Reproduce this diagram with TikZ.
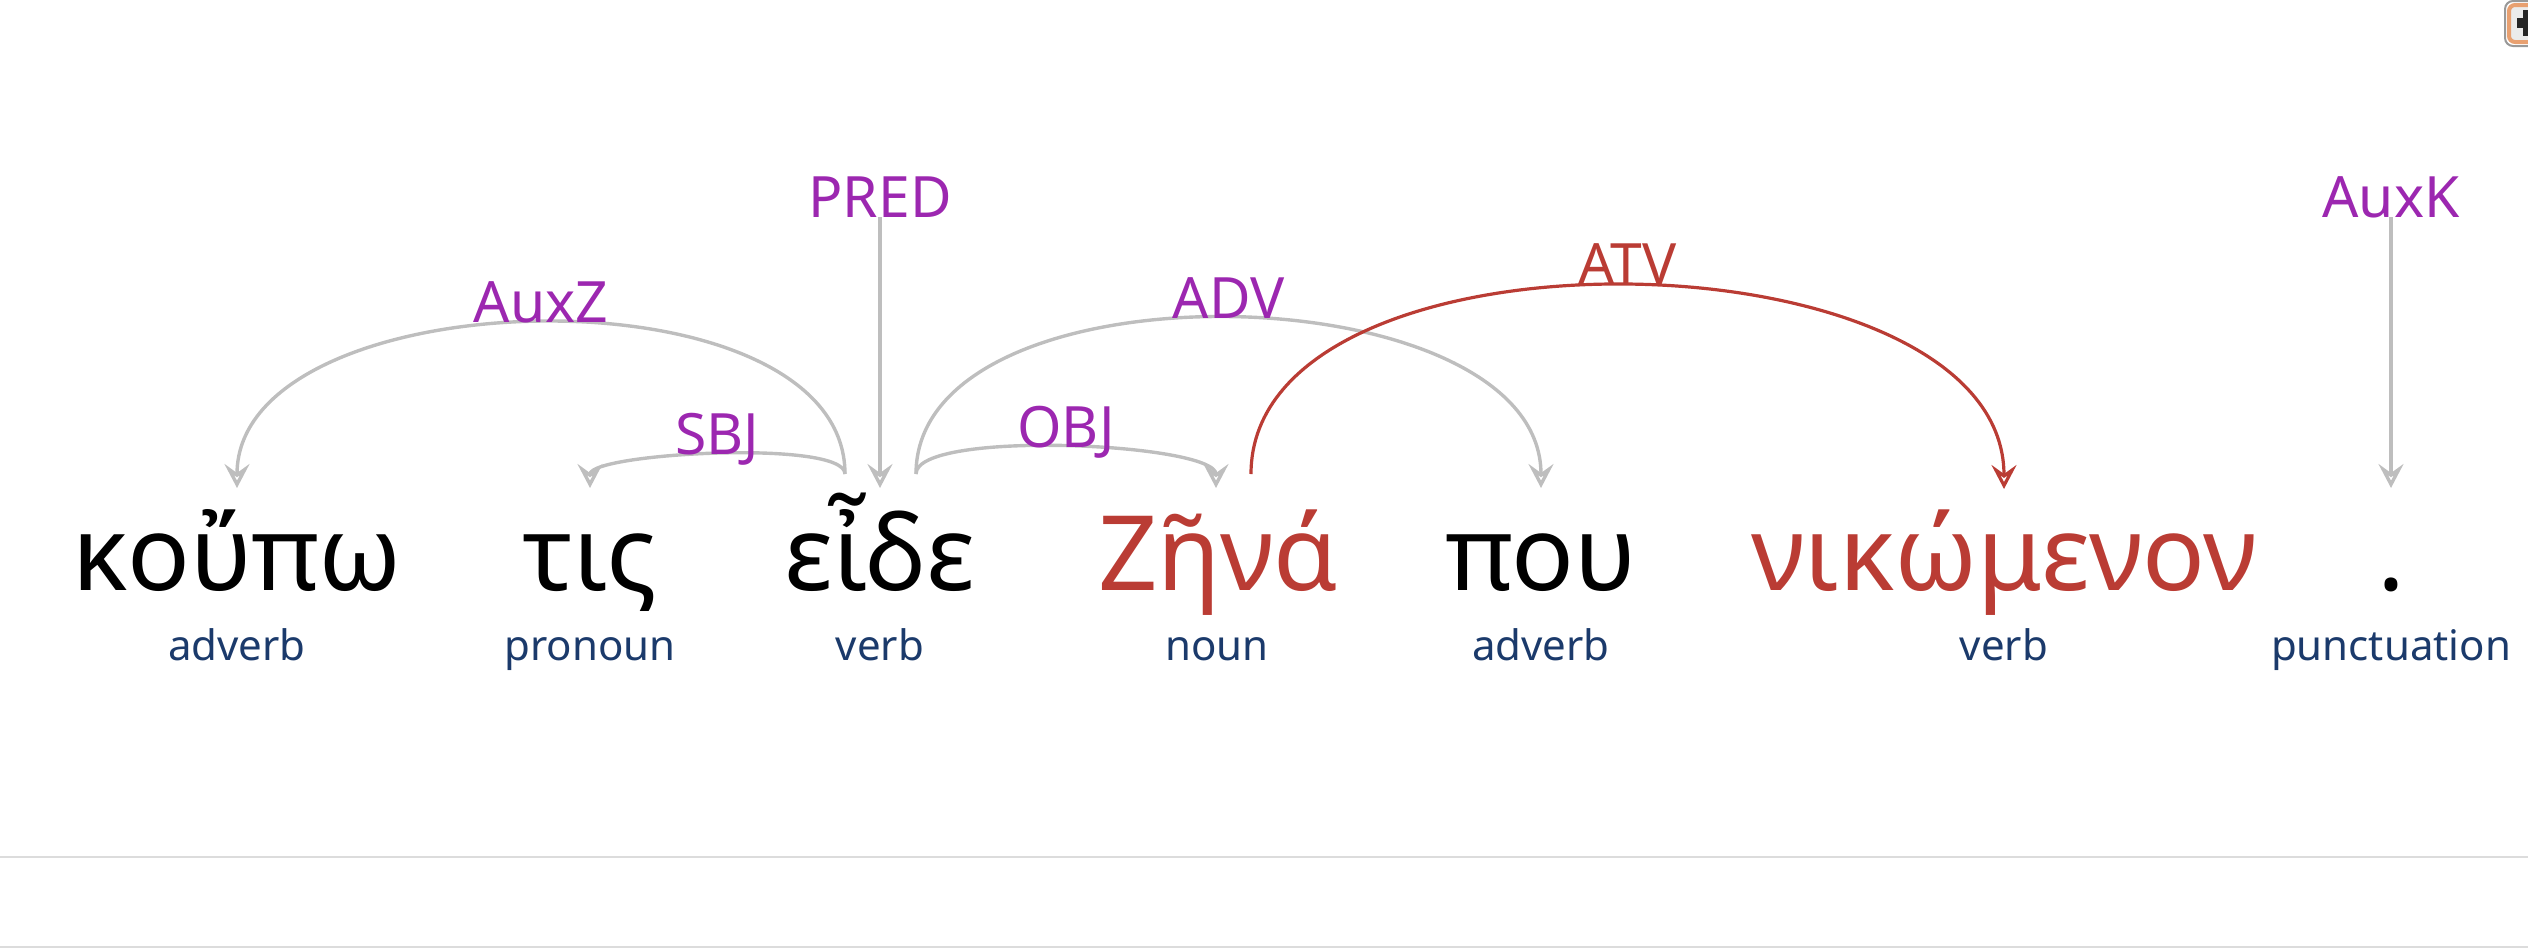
\documentclass[tikz,border=0pt]{standalone}
\usepackage{fontspec}
\setmainfont{Noto Sans}
\usetikzlibrary{arrows.meta,calc}

\definecolor{arcgray}{RGB}{190,190,190}
\definecolor{hilite}{RGB}{186,60,52}
\definecolor{relpurple}{RGB}{156,39,176}
\definecolor{posblue}{RGB}{27,58,107}
\definecolor{rulegray}{RGB}{220,220,220}
\definecolor{btnorange}{RGB}{232,160,112}

\tikzset{
  word/.style={anchor=base, inner sep=0pt, font=\fontsize{52pt}{60pt}\selectfont},
  postag/.style={anchor=base, inner sep=0pt, text=posblue, font=\fontsize{21pt}{25pt}\selectfont},
  rel/.style={anchor=base, inner sep=0pt, text=relpurple, font=\fontsize{28.5pt}{34pt}\selectfont},
  tipopen/.style={-{Stealth[open, length=12pt, width=12.5pt, inset=4.5pt]}},
  dep/.style={draw=arcgray, line width=1.7pt, tipopen},
  hot/.style={draw=hilite, line width=1.6pt, tipopen},
}

\begin{document}
\begin{tikzpicture}[x=0.5pt, y=-0.5pt]
  \useasboundingbox (0,0) rectangle (2528,948);
  \clip (0,0) rectangle (2528,948);

  % tokens
  \node[word] (w1) at (237,590) {κοὔπω};
  \node[word] (w2) at (590,590) {τις};
  \node[word] (w3) at (880,590) {εἶδε};
  \node[word, text=hilite] (w4) at (1218,590) {Ζῆνά};
  \node[word] (w5) at (1541,590) {που};
  \node[word, text=hilite] (w6) at (2004,590) {νικώμενον};
  \node[word] (w7) at (2391,590) {.};

  % part-of-speech tags
  \node[postag] (p1) at (237,660) {adverb};
  \node[postag] (p2) at (590,660) {pronoun};
  \node[postag] (p3) at (880,660) {verb};
  \node[postag] (p4) at (1217,660) {noun};
  \node[postag] (p5) at (1541,660) {adverb};
  \node[postag] (p6) at (2004,660) {verb};
  \node[postag] (p7) at (2391,660) {punctuation};

  % arc ports above the tokens
  \coordinate (w3L) at ($(w3.base)+(-35,-116)$);
  \coordinate (w3R) at ($(w3.base)+(36,-116)$);
  \coordinate (w4R) at ($(w4.base)+(33,-116)$);
  \coordinate (w1t) at ($(w1.base)+(0,-102)$);
  \coordinate (w2t) at ($(w2.base)+(0,-102)$);
  \coordinate (w3t) at ($(w3.base)+(0,-102)$);
  \coordinate (w4t) at ($(w4.base)+(-2,-102)$);
  \coordinate (w5t) at ($(w5.base)+(0,-102)$);
  \coordinate (w6t) at ($(w6.base)+(0,-101)$);
  \coordinate (w7t) at ($(w7.base)+(0,-102)$);

  % root relations
  \node[rel] (rPRED) at (880,217) {PRED};
  \node[rel] (rAuxK) at (2391,217) {AuxK};
  \draw[dep] (rPRED.base) -- (w3t);
  \draw[dep] (rAuxK.base) -- (w7t);

  % dependency arcs
  \draw[dep] (w3L) .. controls +(0,-211) and +(0,-211) .. (w1t)
    node[rel, pos=0.5] (rAuxZ) {AuxZ};
  \draw[dep] (w3L) .. controls +(0,-35) and +(0,-35) .. (w2t)
    node[rel, pos=0.5] (rSBJ) {SBJ};
  \draw[dep] (w3R) .. controls +(0,-217) and +(0,-217) .. (w5t)
    node[rel, pos=0.5] (rADV) {ADV};
  \draw[dep] (w3R) .. controls +(0,-45) and +(0,-45) .. (w4t)
    node[rel, pos=0.5] (rOBJ) {OBJ};
  \draw[hot] (w4R) .. controls +(0,-261) and +(0,-261) .. (w6t)
    node[rel, text=hilite, pos=0.5, yshift=0.5pt] (rATV) {ATV};

  % page rules
  \draw[rulegray, line width=1pt] (0,857) -- (2528,857);
  \draw[rulegray, line width=1pt] (0,947) -- (2528,947);

  % corner button
  \draw[draw=black!40, line width=1pt, rounded corners=4pt, fill=white]
    (2505,1) rectangle (2570,46);
  \draw[draw=btnorange, line width=2pt, rounded corners=3pt, fill=black!8]
    (2509,5) rectangle (2566,42);
  \fill[black!85] (2517,18) rectangle (2545,28);
  \fill[black!85] (2523,10) rectangle (2533,36);
\end{tikzpicture}
\end{document}
